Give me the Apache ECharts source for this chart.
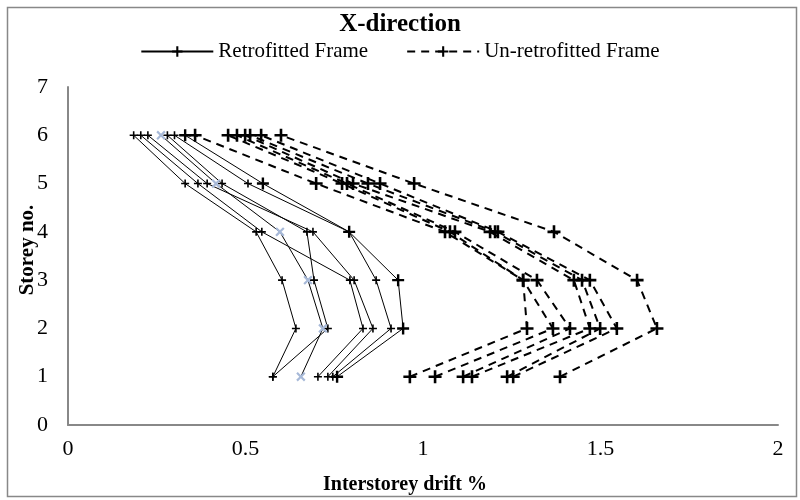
<!DOCTYPE html>
<html>
<head>
<meta charset="utf-8">
<script src="https://cdn.jsdelivr.net/npm/echarts@6/dist/echarts.min.js"></script>
<style>html,body{margin:0;padding:0;background:#fff}#c{width:800px;height:500px}</style>
</head>
<body>
<div id="c"></div>
<script>
const storeys = [1, 2, 3, 4, 5, 6];
const xTicks = [0, 0.5, 1, 1.5, 2];
const yTicks = [0, 1, 2, 3, 4, 5, 6, 7];

// Retrofitted frame (solid), drift % for storeys 1..6
const retroA = [0.577, 0.642, 0.603, 0.530, 0.330, 0.185];
const retroB = [0.577, 0.732, 0.693, 0.673, 0.434, 0.280];
const retroX = [0.656, 0.718, 0.676, 0.597, 0.417, 0.262];
const retroC = [0.704, 0.831, 0.794, 0.546, 0.366, 0.205];
const retroD = [0.732, 0.859, 0.806, 0.690, 0.392, 0.225];
const retroE = [0.746, 0.910, 0.868, 0.792, 0.507, 0.300];
const retroF = [0.758, 0.944, 0.930, 0.792, 0.549, 0.330];

// Un-retrofitted frame (dashed), drift % for storeys 1..6
const unretro1 = [0.963, 1.293, 1.282, 1.062, 0.699, 0.358];
const unretro2 = [1.034, 1.366, 1.282, 1.076, 0.772, 0.451];
const unretro3 = [1.113, 1.414, 1.321, 1.090, 0.786, 0.476];
const unretro4 = [1.138, 1.470, 1.425, 1.189, 0.803, 0.499];
const unretro5 = [1.237, 1.499, 1.448, 1.203, 0.845, 0.513];
const unretro6 = [1.254, 1.546, 1.470, 1.211, 0.879, 0.544];
const unretro7 = [1.386, 1.659, 1.603, 1.369, 0.975, 0.600];

const PLUS = 'path://M4,0H6V4H10V6H6V10H4V6H0V4H4Z';
const FONT = '"Liberation Serif", "Times New Roman", serif';

function pts(arr) { return arr.map((v, i) => [v, storeys[i]]); }

const series = [];
[retroA, retroB, retroC, retroD, retroE, retroF].forEach((arr, k) => {
  series.push({
    name: 'Retrofitted Frame', type: 'line', data: pts(arr),
    symbol: PLUS, symbolSize: k === 5 ? 12 : 8,
    lineStyle: { color: '#000', width: 1 },
    itemStyle: { color: '#000' }, z: 3
  });
});
series.push({
  name: 'Retrofitted X', type: 'line', data: pts(retroX),
  symbol: PLUS, symbolSize: 11, symbolRotate: 45,
  lineStyle: { color: '#000', width: 1 },
  itemStyle: { color: '#a7b9d8' }, z: 4
});
[unretro1, unretro2, unretro3, unretro4, unretro5, unretro6, unretro7].forEach(arr => {
  series.push({
    name: 'Un-retrofitted Frame', type: 'line', data: pts(arr),
    symbol: PLUS, symbolSize: 13,
    lineStyle: { color: '#000', width: 2, type: [8, 6] },
    itemStyle: { color: '#000' }, z: 2
  });
});

const chart = echarts.init(document.getElementById('c'), null, { renderer: 'canvas' });
chart.setOption({
  animation: false,
  backgroundColor: '#fff',
  title: {
    text: 'X-direction', left: 'center', top: 7,
    textStyle: { fontFamily: FONT, fontWeight: 'bold', fontSize: 25, color: '#000' }
  },
  legend: {
    data: ['Retrofitted Frame', 'Un-retrofitted Frame'],
    top: 36, left: 'center', itemWidth: 72, itemHeight: 13, itemGap: 38,
    textStyle: { fontFamily: FONT, fontSize: 21, color: '#000' }
  },
  grid: { left: 68, right: 22, top: 87, bottom: 75 },
  xAxis: {
    type: 'value', min: xTicks[0], max: xTicks[xTicks.length - 1], interval: 0.5,
    axisLine: { lineStyle: { color: '#888', width: 2 } },
    axisTick: { show: false }, splitLine: { show: false },
    axisLabel: { fontFamily: FONT, fontSize: 22, color: '#000', margin: 13 }
  },
  yAxis: {
    type: 'value', min: yTicks[0], max: yTicks[yTicks.length - 1], interval: 1,
    axisLine: { show: true, lineStyle: { color: '#888', width: 2 } },
    axisTick: { show: false }, splitLine: { show: false },
    axisLabel: { fontFamily: FONT, fontSize: 22, color: '#000', margin: 20 }
  },
  graphic: [
    { type: 'rect', left: 5, top: 5, shape: { width: 789, height: 489 },
      style: { fill: 'none', stroke: '#888', lineWidth: 1.5 }, silent: true },
    { type: 'text', x: 405, y: 485,
      style: { text: 'Interstorey drift %', font: 'bold 20px ' + FONT, fill: '#000',
               textAlign: 'center', textVerticalAlign: 'middle' } },
    { type: 'text', x: 28, y: 250, rotation: Math.PI / 2,
      style: { text: 'Storey no.', font: 'bold 21px ' + FONT, fill: '#000',
               textAlign: 'center', textVerticalAlign: 'middle' } }
  ],
  series: series
});
</script>
</body>
</html>
